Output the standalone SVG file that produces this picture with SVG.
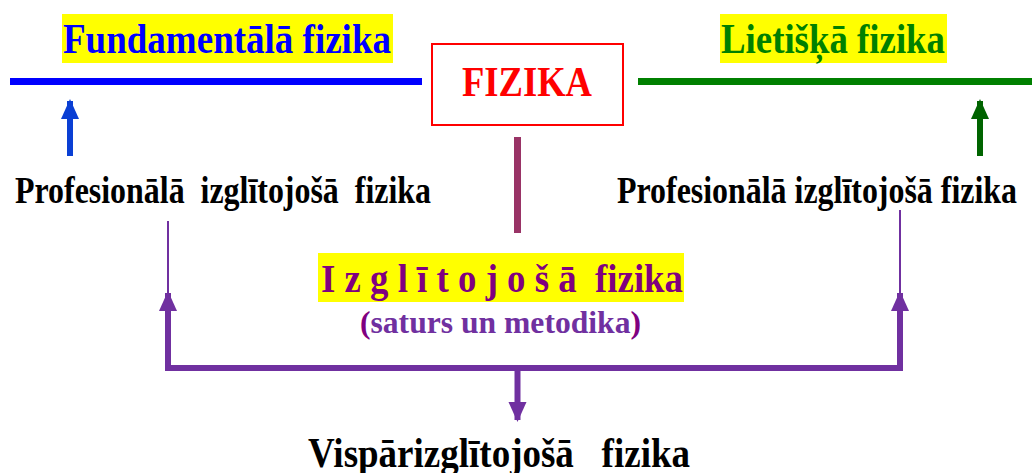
<svg xmlns="http://www.w3.org/2000/svg" width="1032" height="473" viewBox="0 0 1032 473">
<style>
text{font-family:"Liberation Serif","Times New Roman",serif;font-weight:bold}
.hl{fill:#ffff00}
.big{font-size:43px}
.mid{font-size:38px}
.blk{fill:#000}
.pur{stroke:#7030a0;fill:none}
</style>
<defs>
<marker id="ab" markerUnits="userSpaceOnUse" markerWidth="20" markerHeight="20" refX="18" refY="9" orient="auto" viewBox="0 0 20 18"><path d="M0,0 L20,9 L0,18 Z" fill="#0a3fd4"/></marker>
<marker id="ag" markerUnits="userSpaceOnUse" markerWidth="20" markerHeight="20" refX="18" refY="9" orient="auto" viewBox="0 0 20 18"><path d="M0,0 L20,9 L0,18 Z" fill="#006400"/></marker>
<marker id="ap" markerUnits="userSpaceOnUse" markerWidth="20" markerHeight="20" refX="18" refY="9" orient="auto" viewBox="0 0 20 18"><path d="M0,0 L20,9 L0,18 Z" fill="#7030a0"/></marker>
</defs>

<g id="fundamentala">
<rect class="hl" x="62" y="14" width="331" height="49"/>
<text class="big" x="63" y="53" fill="#0000ff" textLength="328" lengthAdjust="spacingAndGlyphs">Fundamentālā fizika</text>
<line x1="10" y1="81.5" x2="422" y2="81.5" stroke="#0000ff" stroke-width="7"/>
</g>

<g id="fizika">
<rect x="432" y="44" width="191" height="81" fill="#fff" stroke="#ff0000" stroke-width="2"/>
<text class="big" x="462" y="96" fill="#ff0000" textLength="130" lengthAdjust="spacingAndGlyphs">FIZIKA</text>
</g>

<g id="lietiska">
<rect class="hl" x="720" y="14" width="227" height="49"/>
<text class="big" x="721" y="53" fill="#008000" textLength="224" lengthAdjust="spacingAndGlyphs">Lietišķā fizika</text>
<line x1="638" y1="81.5" x2="1032" y2="81.5" stroke="#008000" stroke-width="7"/>
</g>

<g id="prof-left">
<text class="mid blk" x="15" y="203" textLength="416" lengthAdjust="spacingAndGlyphs" xml:space="preserve">Profesionālā  izglītojošā  fizika</text>
</g>

<g id="prof-right">
<text class="mid blk" x="617" y="203" textLength="400" lengthAdjust="spacingAndGlyphs">Profesionālā izglītojošā fizika</text>
</g>

<g id="izglitojosa">
<rect class="hl" x="318" y="253" width="366" height="49"/>
<text x="321" y="292" font-size="40" fill="#800080" textLength="362" lengthAdjust="spacingAndGlyphs" xml:space="preserve">I z g l ī t o j o š ā  fizika</text>
<text x="360" y="333" font-size="32" fill="#7030a0" textLength="281" lengthAdjust="spacingAndGlyphs"><tspan fill="#800080">(</tspan>saturs un metodika<tspan fill="#800080">)</tspan></text>
</g>

<g id="visparizglitojosa">
<text class="big blk" x="308" y="467" textLength="382" lengthAdjust="spacingAndGlyphs" xml:space="preserve">Vispārizglītojošā   fizika</text>
</g>

<g id="connectors">
<line x1="70" y1="156" x2="70" y2="101" stroke="#0a3fd4" stroke-width="6" marker-end="url(#ab)"/>
<line x1="980" y1="156" x2="980" y2="101" stroke="#006400" stroke-width="6" marker-end="url(#ag)"/>
<line x1="517.5" y1="137" x2="517.5" y2="233" stroke="#993366" stroke-width="7"/>
<line class="pur" x1="168" y1="221" x2="168" y2="300" stroke-width="2"/>
<line class="pur" x1="900" y1="210" x2="900" y2="300" stroke-width="2"/>
<polyline class="pur" points="168,367 168,368 900,368 900,367" stroke-width="6"/>
<line class="pur" x1="168" y1="368" x2="168" y2="293" stroke-width="6" marker-end="url(#ap)"/>
<line class="pur" x1="900" y1="368" x2="900" y2="293" stroke-width="6" marker-end="url(#ap)"/>
<line class="pur" x1="517.5" y1="368" x2="517.5" y2="420" stroke-width="6" marker-end="url(#ap)"/>
</g>
</svg>
